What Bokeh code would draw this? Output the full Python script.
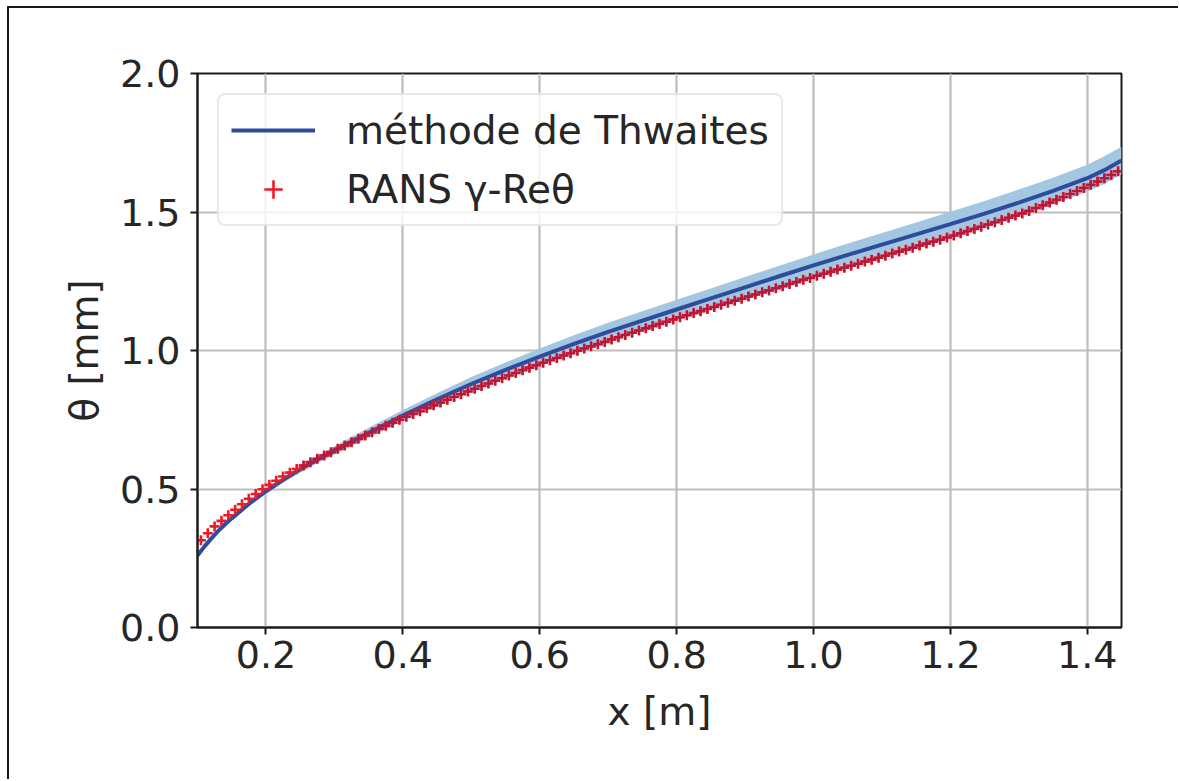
from bokeh.plotting import figure
from bokeh.models import Range1d, FixedTicker, Legend, LegendItem
from bokeh.embed import file_html
from bokeh.resources import INLINE

# Thwaites method (line) and its light-blue band
thw_x = [0.10, 0.11, 0.12, 0.13, 0.14, 0.15, 0.175, 0.20, 0.225, 0.25, 0.275, 0.30, 0.35,
         0.40, 0.45, 0.50, 0.55, 0.60, 0.65, 0.70, 0.75, 0.80, 0.85, 0.90, 0.95, 1.00,
         1.05, 1.10, 1.15, 1.20, 1.25, 1.30, 1.35, 1.40, 1.425, 1.45]
thw_y = [0.26, 0.292, 0.321, 0.348, 0.372, 0.394, 0.446, 0.492, 0.533, 0.571, 0.606, 0.639,
         0.703, 0.765, 0.824, 0.879, 0.930, 0.978, 1.024, 1.067, 1.108, 1.148, 1.188, 1.228,
         1.268, 1.307, 1.345, 1.382, 1.419, 1.456, 1.494, 1.534, 1.576, 1.622, 1.651, 1.686]
band_hi = [0.264, 0.296, 0.326, 0.353, 0.377, 0.400, 0.454, 0.502, 0.544, 0.583, 0.619, 0.654,
           0.721, 0.785, 0.846, 0.904, 0.957, 1.007, 1.055, 1.100, 1.142, 1.183, 1.224, 1.265,
           1.306, 1.347, 1.386, 1.424, 1.462, 1.501, 1.540, 1.581, 1.624, 1.671, 1.701, 1.736]
band_lo = [0.256, 0.288, 0.316, 0.343, 0.367, 0.388, 0.438, 0.482, 0.522, 0.559, 0.593, 0.624,
           0.685, 0.745, 0.802, 0.854, 0.903, 0.949, 0.993, 1.034, 1.074, 1.113, 1.152, 1.191,
           1.230, 1.267, 1.304, 1.340, 1.376, 1.411, 1.448, 1.487, 1.528, 1.573, 1.601, 1.636]

# RANS gamma-Re_theta (markers)
rans_x = [0.105, 0.115, 0.125, 0.135, 0.145, 0.155, 0.165, 0.175, 0.185, 0.195,
          0.205, 0.215, 0.225, 0.235, 0.245, 0.255, 0.265, 0.275, 0.285, 0.295,
          0.305, 0.315, 0.325, 0.335, 0.345, 0.355, 0.365, 0.375, 0.385, 0.395,
          0.405, 0.415, 0.425, 0.435, 0.445, 0.455, 0.465, 0.475, 0.485, 0.495,
          0.505, 0.515, 0.525, 0.535, 0.545, 0.555, 0.565, 0.575, 0.585, 0.595,
          0.605, 0.615, 0.625, 0.635, 0.645, 0.655, 0.665, 0.675, 0.685, 0.695,
          0.705, 0.715, 0.725, 0.735, 0.745, 0.755, 0.765, 0.775, 0.785, 0.795,
          0.805, 0.815, 0.825, 0.835, 0.845, 0.855, 0.865, 0.875, 0.885, 0.895,
          0.905, 0.915, 0.925, 0.935, 0.945, 0.955, 0.965, 0.975, 0.985, 0.995,
          1.005, 1.015, 1.025, 1.035, 1.045, 1.055, 1.065, 1.075, 1.085, 1.095,
          1.105, 1.115, 1.125, 1.135, 1.145, 1.155, 1.165, 1.175, 1.185, 1.195,
          1.205, 1.215, 1.225, 1.235, 1.245, 1.255, 1.265, 1.275, 1.285, 1.295,
          1.305, 1.315, 1.325, 1.335, 1.345, 1.355, 1.365, 1.375, 1.385, 1.395,
          1.405, 1.415, 1.425, 1.435, 1.445]
rans_y = [0.315, 0.340, 0.365, 0.385, 0.405, 0.425, 0.445, 0.465, 0.482, 0.499,
          0.515, 0.530, 0.545, 0.559, 0.572, 0.585, 0.597, 0.609, 0.621, 0.633,
          0.645, 0.657, 0.669, 0.681, 0.693, 0.705, 0.717, 0.728, 0.739, 0.750,
          0.761, 0.771, 0.781, 0.792, 0.802, 0.812, 0.822, 0.832, 0.842, 0.852,
          0.862, 0.872, 0.881, 0.891, 0.900, 0.910, 0.919, 0.929, 0.938, 0.947,
          0.956, 0.965, 0.973, 0.982, 0.990, 0.999, 1.007, 1.015, 1.023, 1.031,
          1.040, 1.048, 1.056, 1.064, 1.072, 1.080, 1.088, 1.096, 1.104, 1.112,
          1.120, 1.127, 1.135, 1.142, 1.150, 1.157, 1.165, 1.172, 1.180, 1.187,
          1.195, 1.202, 1.210, 1.217, 1.225, 1.232, 1.240, 1.247, 1.255, 1.262,
          1.270, 1.277, 1.284, 1.292, 1.299, 1.306, 1.313, 1.321, 1.328, 1.335,
          1.342, 1.350, 1.357, 1.364, 1.371, 1.379, 1.386, 1.393, 1.400, 1.408,
          1.415, 1.423, 1.431, 1.439, 1.447, 1.455, 1.463, 1.471, 1.479, 1.487,
          1.495, 1.504, 1.514, 1.524, 1.534, 1.544, 1.554, 1.565, 1.576, 1.587,
          1.598, 1.610, 1.622, 1.634, 1.647]

x_ticks = [0.2, 0.4, 0.6, 0.8, 1.0, 1.2, 1.4]
y_ticks = [0.0, 0.5, 1.0, 1.5, 2.0]

FONT = "DejaVu Sans"
TXT = "#262626"

p = figure(width=1171, height=773, output_backend="svg", toolbar_location=None,
           x_range=Range1d(0.1, 1.45), y_range=Range1d(0.0, 2.0),
           min_border_left=188, min_border_right=59, min_border_top=65, min_border_bottom=154)
p.styles = {"margin-left": "7px", "margin-top": "6px",
            "border-left": "2px solid #1a1a1a", "border-top": "2px solid #1a1a1a"}

p.outline_line_color = "#1a1a1a"
p.outline_line_width = 2
p.background_fill_color = "white"
p.border_fill_color = "white"

for ax in (p.xaxis[0], p.yaxis[0]):
    ax.axis_line_color = "#1a1a1a"
    ax.axis_line_width = 2
    ax.major_tick_line_color = "#1a1a1a"
    ax.major_tick_line_width = 2
    ax.major_tick_out = 7
    ax.major_tick_in = 0
    ax.minor_tick_line_color = None
    ax.major_label_text_font = FONT
    ax.major_label_text_font_size = "38px"
    ax.major_label_text_color = TXT
    ax.axis_label_text_font = FONT
    ax.axis_label_text_font_size = "39px"
    ax.axis_label_text_font_style = "normal"
    ax.axis_label_text_color = TXT

p.xaxis.ticker = FixedTicker(ticks=x_ticks)
p.yaxis.ticker = FixedTicker(ticks=y_ticks)
p.xaxis.major_label_overrides = {t: f"{t:.1f}" for t in x_ticks}
p.yaxis.major_label_overrides = {t: f"{t:.1f}" for t in y_ticks}
p.xaxis.major_label_standoff = 6
p.yaxis.major_label_standoff = 10
p.xaxis.axis_label = "x [m]"
p.yaxis.axis_label = "θ [mm]"
p.xaxis.axis_label_standoff = 18
p.yaxis.axis_label_standoff = 10

p.xgrid.ticker = FixedTicker(ticks=x_ticks)
p.ygrid.ticker = FixedTicker(ticks=y_ticks)
for g in (p.xgrid[0], p.ygrid[0]):
    g.grid_line_color = "#bdbdbd"
    g.grid_line_width = 2.2

p.varea(x=thw_x, y1=band_lo, y2=band_hi, fill_color="#a3c7e1", fill_alpha=1.0)
line_r = p.line(thw_x, thw_y, line_color="#2c4c9e", line_width=4)
mk_r = p.scatter(rans_x, rans_y, marker="cross", size=10, line_color="#f01a26", line_width=2.6)
p.scatter(rans_x[15:], rans_y[15:], marker="cross", size=9, line_color="#b01a3e", line_width=2.0)

legend = Legend(items=[LegendItem(label="méthode de Thwaites", renderers=[line_r]),
                       LegendItem(label="RANS γ-Reθ", renderers=[mk_r])],
                location="top_left")
legend.label_text_font = FONT
legend.label_text_font_size = "39px"
legend.label_text_color = TXT
legend.glyph_width = 84
legend.glyph_height = 46
legend.label_height = 46
legend.label_standoff = 31
legend.spacing = 13
legend.padding = 12
legend.margin = 20
legend.border_line_color = "#d4d4d4"
legend.border_line_width = 2
legend.background_fill_alpha = 0.8
legend.border_radius = 8
p.add_layout(legend)

open("out.html", "w").write(file_html(p, INLINE))
